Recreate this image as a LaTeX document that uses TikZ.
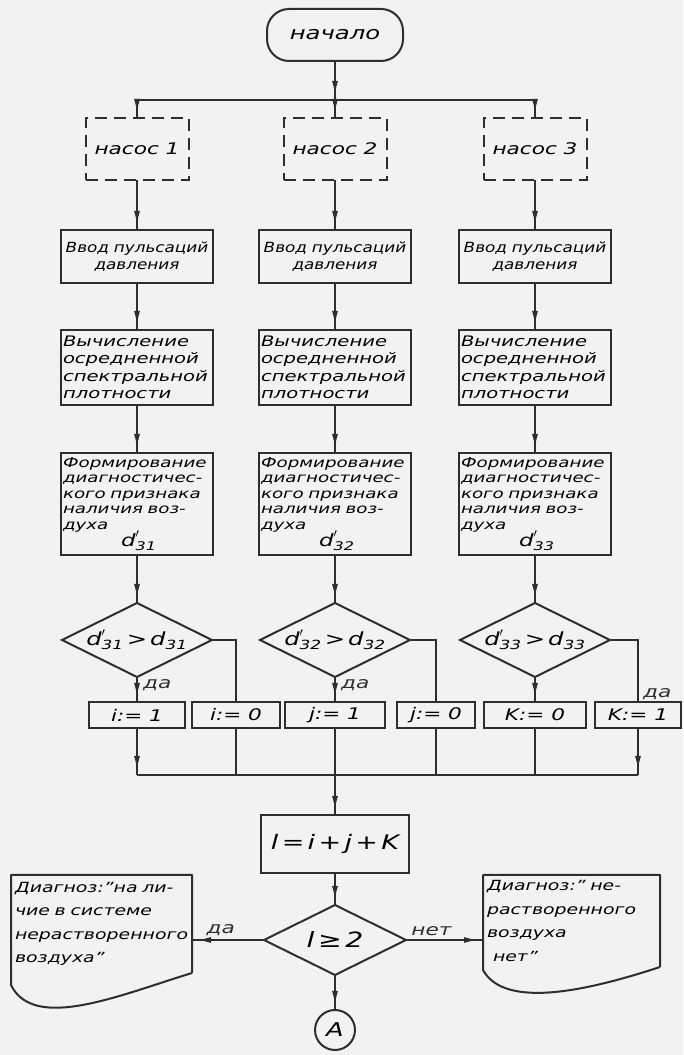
\documentclass[tikz,border=0pt]{standalone}
\usepackage{amstext}
\usepackage{fontspec}
\setmainfont{DejaVu Sans}[FakeStretch=1.35]
\newfontfamily\handnarrow{DejaVu Sans}[FakeStretch=1.2]
\usetikzlibrary{positioning, arrows.meta, shapes.geometric, decorations.markings}

\definecolor{paper}{gray}{0.95}
\definecolor{ink}{gray}{0.18}

\newcommand{\dfeat}[1]{\ensuremath{\textit{d}'_{\textit{#1}}}}
\newcommand{\dlim}[1]{\ensuremath{\textit{d}_{\textit{#1}}}}

\begin{document}
\begin{tikzpicture}[x=1pt, y=1pt,
  term/.style={draw=ink, rounded corners=22pt, line width=2pt, outer sep=0pt, minimum width=136pt,
               minimum height=52pt, font=\itshape\fontsize{18}{20}\selectfont},
  pump/.style={draw=ink, dash pattern=on 12pt off 7pt, line width=2pt, outer sep=0pt,
               minimum width=103pt, minimum height=62pt, font=\itshape\fontsize{16}{18}\selectfont},
  proc/.style={draw=ink, line width=2.2pt, outer sep=0pt, text width=148pt, inner xsep=2pt,
               inner ysep=3pt, align=left, font=\itshape\fontsize{14.5}{17.5}\selectfont},
  decide/.style={diamond, aspect=2.03, draw=ink, line width=2pt, outer sep=0pt, minimum width=150pt,
                 minimum height=74pt, inner sep=0pt, font=\itshape\fontsize{18}{20}\selectfont},
  assign/.style={draw=ink, line width=2.6pt, outer sep=0pt, minimum height=26pt, inner sep=1pt,
                 font=\itshape\fontsize{16}{18}\selectfont},
  doc/.style={text width=173pt, inner sep=4pt, outer sep=0pt, align=left, minimum height=98pt,
              font=\itshape\fontsize{14}{23.5}\selectfont},
  outline/.style={draw=ink, line width=2pt, line join=round},
  conn/.style={ink, line width=1.6pt},
  arr/.style={conn, postaction={decorate}, decoration={markings,
              mark=at position -5pt with {\arrow{Latex[length=14pt, width=6pt]}}}},
  lbl/.style={text=ink, inner sep=1pt, font=\itshape\fontsize{16}{18}\selectfont},
]

% Paper
\fill[paper] (0,0) rectangle (683,1055);
\useasboundingbox (0,0) rectangle (683,1055);

% Start
\node[term] (start) at (335,1020) {начало};
\coordinate (split) at (335,955);

% Pumps
\node[pump] (pump1) at (137,906) {насос 1};
\node[pump] (pump2) at (335,906) {насос 2};
\node[pump] (pump3) at (535,906) {насос 3};

% Pressure pulsation input
\node[proc, align=center, minimum height=53pt, below=50pt of pump1] (inp1) {\handnarrow\fontsize{14}{19}\selectfont Ввод пульсаций\\давления};
\node[proc, align=center, minimum height=53pt, below=50pt of pump2] (inp2) {\handnarrow\fontsize{14}{19}\selectfont Ввод пульсаций\\давления};
\node[proc, align=center, minimum height=53pt, below=50pt of pump3] (inp3) {\handnarrow\fontsize{14}{19}\selectfont Ввод пульсаций\\давления};

% Averaged spectral density
\node[proc, minimum height=75pt, below=47pt of inp1] (psd1) {Вычисление\\осредненной\\спектральной\\плотности};
\node[proc, minimum height=75pt, below=47pt of inp2] (psd2) {Вычисление\\осредненной\\спектральной\\плотности};
\node[proc, minimum height=75pt, below=47pt of inp3] (psd3) {Вычисление\\осредненной\\спектральной\\плотности};

% Diagnostic feature
\node[proc, minimum height=102pt, font=\itshape\fontsize{13.5}{15.5}\selectfont, below=48pt of psd1] (feat1)
  {Формирование\\диагностичес-\\кого признака\\наличия воз-\\духа\\[-2pt]\hspace*{58pt}{\fontsize{17}{17}\selectfont\dfeat{31}}};
\node[proc, minimum height=102pt, font=\itshape\fontsize{13.5}{15.5}\selectfont, below=48pt of psd2] (feat2)
  {Формирование\\диагностичес-\\кого признака\\наличия воз-\\духа\\[-2pt]\hspace*{58pt}{\fontsize{17}{17}\selectfont\dfeat{32}}};
\node[proc, minimum height=102pt, font=\itshape\fontsize{13.5}{15.5}\selectfont, below=48pt of psd3] (feat3)
  {Формирование\\диагностичес-\\кого признака\\наличия воз-\\духа\\[-2pt]\hspace*{58pt}{\fontsize{17}{17}\selectfont\dfeat{33}}};

% Comparisons
\node[decide, below=48pt of feat1] (dec1) {\dfeat{31}\,>\,\dlim{31}};
\node[decide, below=48pt of feat2] (dec2) {\dfeat{32}\,>\,\dlim{32}};
\node[decide, below=48pt of feat3] (dec3) {\dfeat{33}\,>\,\dlim{33}};

% Assignments
\node[assign, minimum width=96pt, below=25pt of dec1] (i1) {i:= 1};
\node[assign, minimum width=88pt, right=7pt of i1] (i0) {i:= 0};
\node[assign, minimum width=100pt, below=25pt of dec2] (j1) {j:= 1};
\node[assign, minimum width=78pt, right=12pt of j1] (j0) {j:= 0};
\node[assign, minimum width=102pt, below=25pt of dec3] (k0) {K:= 0};
\node[assign, minimum width=86pt, right=9pt of k0] (k1) {K:= 1};

\node[lbl, below right=1pt and 5pt of dec1.south] (yes1) {да};
\node[lbl, below right=1pt and 5pt of dec2.south] (yes2) {да};
\node[lbl, above right=1pt and 4pt of k1.north] (yes3) {да};

% Sum and final test
\coordinate[below=47pt of j1] (merge);
\node[proc, align=center, text width=144pt, minimum height=58pt,
      font=\itshape\fontsize{20}{22}\selectfont, below=40pt of merge] (sum) {l\,=\,i\,+\,j\,+\,K};
\node[decide, minimum width=142pt, minimum height=70pt,
      font=\itshape\fontsize{21}{23}\selectfont, below=32pt of sum] (test) {l\,≥\,2};
\node[outline, circle, minimum size=40pt, inner sep=0pt, outer sep=0pt,
      font=\itshape\fontsize{19}{21}\selectfont, below=35pt of test] (conA) {A};

% Diagnoses
\node[doc] (ldoc) at (101.5,131) {Диагноз:"на ли-\\чие в системе\\нерастворенного\\воздуха"};
\node[doc, text width=169pt, minimum height=92pt] (rdoc) at (571.5,134)
  {Диагноз:" не-\\растворенного\\воздуха\\\hspace*{6pt}нет"};
\draw[outline] (ldoc.south east) -- (ldoc.north east) -- (ldoc.north west) -- ([yshift=-12pt]ldoc.south west)
  .. controls +(23pt,-47pt) and +(-72pt,-22pt) .. (ldoc.south east);
\draw[outline] (rdoc.south east) -- (rdoc.north east) -- (rdoc.north west) -- ([yshift=-3pt]rdoc.south west)
  .. controls +(22pt,-40pt) and +(-70pt,-23pt) .. (rdoc.south east);

% Connectors
\draw[arr] (start) -- (split);
\draw[arr] (split) -| (pump1);
\draw[arr] (split) -- (pump2);
\draw[arr] (split) -| (pump3);

\draw[arr] (pump1) -- (inp1);
\draw[arr] (pump2) -- (inp2);
\draw[arr] (pump3) -- (inp3);
\draw[arr] (inp1) -- (psd1);
\draw[arr] (inp2) -- (psd2);
\draw[arr] (inp3) -- (psd3);
\draw[arr] (psd1) -- (feat1);
\draw[arr] (psd2) -- (feat2);
\draw[arr] (psd3) -- (feat3);
\draw[arr] (feat1) -- (dec1);
\draw[arr] (feat2) -- (dec2);
\draw[arr] (feat3) -- (dec3);

\draw[arr] (dec1) -- (i1);
\draw[conn] (dec1.east) -| (i0);
\draw[arr] (dec2) -- (j1);
\draw[conn] (dec2.east) -| (j0);
\draw[arr] (dec3) -- (k0);
\draw[conn] (dec3.east) -| (k1);

\draw[arr] (i1) -- (i1 |- merge);
\draw[conn] (i0) -- (i0 |- merge);
\draw[conn] (j1) -- (merge);
\draw[conn] (j0) -- (j0 |- merge);
\draw[conn] (k0) -- (k0 |- merge);
\draw[arr] (k1) -- (k1 |- merge);
\draw[conn] (i1 |- merge) -- (k1 |- merge);
\draw[arr] (merge) -- (sum);

\draw[arr] (sum) -- (test);
\draw[arr] (test) -- (conA);
\draw[arr] (test.west) -- (test.west -| ldoc.east) node[lbl, pos=0.6, above=2pt] (yes) {да};
\draw[arr] (test.east) -- (test.east -| rdoc.west) node[lbl, pos=0.33, above=2pt] (no) {нет};

\end{tikzpicture}
\end{document}
